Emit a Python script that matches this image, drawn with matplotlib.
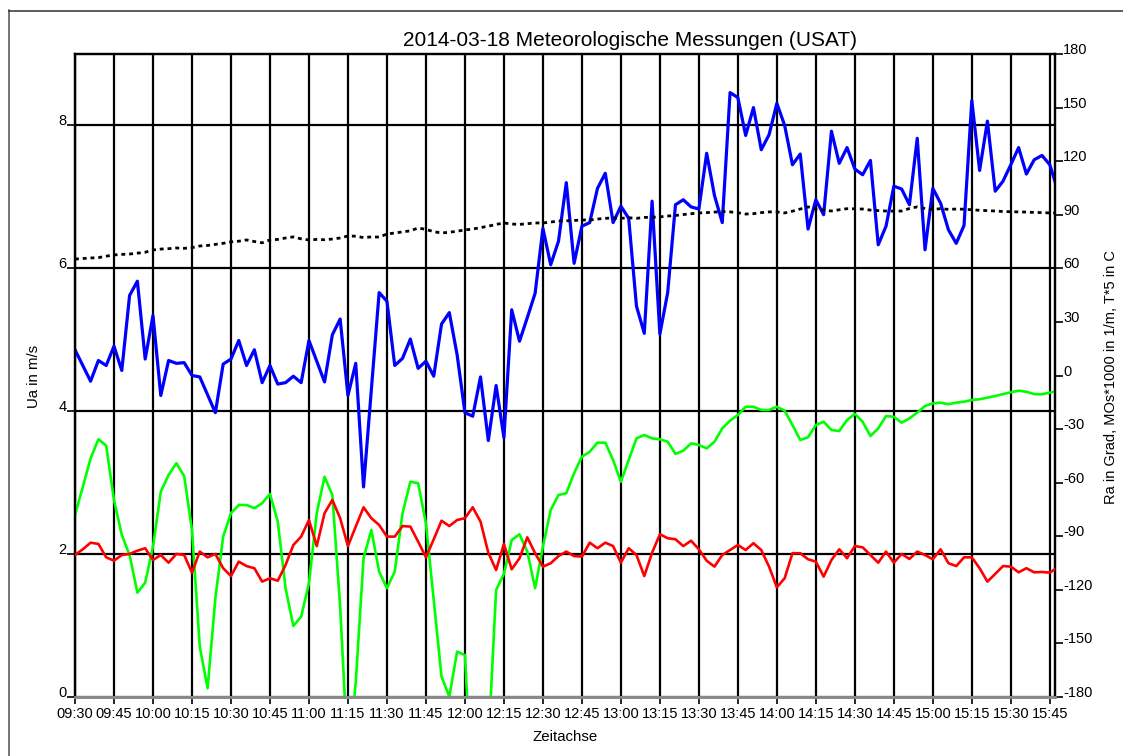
import matplotlib
matplotlib.use("Agg")
import matplotlib.pyplot as plt
import matplotlib.dates as mdates
from matplotlib.lines import Line2D
import pandas as pd

plt.rcParams['font.family'] = ['Liberation Sans', 'DejaVu Sans']

# ---- data ----
start_time = "2014-03-18 09:30"
step = "3min"

ua = [4.86, 4.64, 4.42, 4.71, 4.64, 4.91, 4.57, 5.62, 5.82, 4.73,
      5.34, 4.22, 4.71, 4.67, 4.68, 4.50, 4.48, 4.23, 3.98, 4.66,
      4.73, 4.99, 4.64, 4.86, 4.40, 4.64, 4.38, 4.40, 4.49, 4.40,
      4.99, 4.70, 4.41, 5.07, 5.29, 4.22, 4.67, 2.94, 4.30, 5.66,
      5.54, 4.64, 4.74, 5.01, 4.60, 4.70, 4.49, 5.22, 5.38, 4.79,
      3.98, 3.93, 4.48, 3.59, 4.36, 3.63, 5.42, 4.98, 5.31, 5.65,
      6.56, 6.05, 6.38, 7.20, 6.07, 6.59, 6.64, 7.12, 7.33, 6.64,
      6.87, 6.70, 5.47, 5.09, 6.94, 5.08, 5.66, 6.89, 6.96, 6.86,
      6.83, 7.61, 7.02, 6.64, 8.46, 8.39, 7.86, 8.25, 7.66, 7.87,
      8.31, 8.00, 7.45, 7.60, 6.55, 6.96, 6.75, 7.92, 7.47, 7.69,
      7.39, 7.31, 7.51, 6.33, 6.59, 7.15, 7.11, 6.89, 7.82, 6.26,
      7.12, 6.91, 6.54, 6.35, 6.60, 8.35, 7.37, 8.06, 7.08, 7.22,
      7.45, 7.69, 7.32, 7.52, 7.58, 7.45, 7.10]

temp5 = [65.2, 65.5, 65.8, 66.0, 66.8, 67.5, 67.8, 68.0, 68.5, 69.0,
         70.3, 70.8, 71.0, 71.4, 71.2, 71.6, 72.5, 72.8, 73.4, 74.0,
         74.8, 75.2, 75.9, 75.0, 74.3, 75.9, 76.2, 77.0, 77.6, 76.5,
         75.9, 76.2, 76.0, 76.4, 77.0, 78.1, 78.0, 77.2, 77.6, 77.5,
         79.2, 79.8, 80.4, 81.0, 82.6, 81.8, 80.5, 79.8, 80.2, 80.8,
         81.5, 82.0, 82.8, 83.6, 84.6, 85.4, 84.8, 84.6, 85.0, 85.4,
         85.4, 85.9, 86.5, 86.6, 86.8, 87.1, 87.0, 87.6, 88.0, 88.2,
         88.0, 88.3, 88.0, 88.5, 88.6, 88.8, 89.3, 89.6, 90.1, 90.6,
         91.0, 91.2, 91.5, 91.8, 91.6, 91.1, 90.4, 90.6, 91.2, 91.6,
         91.6, 91.0, 92.0, 93.2, 94.4, 93.2, 92.6, 92.1, 92.8, 93.4,
         93.3, 93.2, 92.6, 92.3, 92.1, 92.0, 92.1, 93.5, 94.4, 93.5,
         93.0, 93.4, 93.0, 93.2, 93.1, 92.8, 92.5, 92.3, 92.1, 91.8,
         91.7, 91.6, 91.5, 91.3, 91.2, 91.0, 91.0]

ra = [-78.1, -62.4, -46.4, -35.7, -39.3, -69.7, -89.3, -100.5, -121.6, -116.0,
      -95.8, -65.0, -55.7, -49.1, -56.3, -86.5, -151.8, -175.1, -124.7, -90.2,
      -77.1, -72.5, -72.5, -74.3, -71.5, -66.3, -81.8, -119.1, -140.2, -135.0,
      -116.3, -77.1, -56.7, -66.9, -129.4, -215.0, -172.0, -102.3, -86.5, -109.8,
      -119.1, -109.8, -77.1, -59.5, -60.3, -82.7, -125.7, -168.6, -179.8, -154.6,
      -156.5, -240.0, -260.0, -207.0, -120.1, -111.1, -92.1, -88.9, -98.6, -119.1,
      -95.8, -75.3, -66.9, -65.9, -54.7, -45.5, -42.7, -37.6, -37.6, -47.3,
      -59.5, -47.3, -35.2, -33.3, -35.2, -35.7, -37.1, -43.9, -42.1, -38.0,
      -38.9, -40.8, -37.1, -29.6, -25.3, -22.1, -17.5, -17.5, -19.3, -19.3,
      -17.5, -19.7, -27.7, -36.1, -34.6, -27.7, -25.9, -30.5, -31.1, -24.9,
      -21.5, -25.9, -33.9, -29.6, -22.7, -23.1, -26.4, -24.0, -20.8, -17.1,
      -15.6, -15.2, -16.1, -15.2, -14.7, -13.7, -13.3, -12.4, -11.5, -10.4,
      -9.4, -8.5, -9.1, -10.4, -10.5, -9.6, -8.7]

mos = [-100.5, -97.3, -93.6, -94.3, -101.8, -103.7, -100.5, -99.9, -98.1, -96.7,
       -103.3, -100.5, -104.8, -99.9, -100.5, -110.4, -98.6, -101.8, -99.9, -107.9,
       -112.3, -104.2, -106.7, -107.9, -115.4, -113.5, -114.9, -106.1, -94.9, -90.2,
       -80.9, -95.5, -77.1, -69.7, -79.9, -95.5, -84.6, -73.8, -79.9, -83.7,
       -90.2, -90.2, -84.3, -84.6, -93.0, -101.8, -91.7, -81.3, -84.3, -80.9,
       -79.9, -73.8, -81.8, -99.2, -108.9, -94.3, -108.5, -102.3, -90.6, -99.5,
       -107.0, -105.1, -101.1, -98.6, -101.1, -101.4, -93.6, -96.7, -93.6, -95.5,
       -104.8, -96.7, -100.5, -112.3, -99.2, -88.9, -91.1, -91.7, -95.5, -92.5,
       -97.3, -103.7, -107.0, -100.5, -97.7, -94.9, -97.7, -93.9, -97.7, -107.0,
       -118.6, -113.5, -99.5, -99.5, -102.9, -104.2, -112.6, -103.3, -97.3, -102.3,
       -95.5, -96.2, -100.5, -104.8, -98.6, -104.8, -99.9, -102.7, -98.6, -100.5,
       -102.9, -97.3, -105.1, -106.7, -101.8, -101.8, -107.9, -115.4, -111.1, -106.7,
       -107.0, -110.2, -107.9, -110.2, -110.0, -110.4, -107.4]

left_ticks = [0, 2, 4, 6, 8]
right_ticks = list(range(-180, 181, 30))

times = pd.date_range(start_time, periods=len(ua), freq=step)

# ---- figure ----
W, H = 1123, 756
fig = plt.figure(figsize=(W / 100, H / 100), dpi=100)
L, R, T, B = 75, 1055, 54, 697
ax = fig.add_axes([L / W, 1 - B / H, (R - L) / W, (B - T) / H])
ax2 = ax.twinx()

ax.set_ylim(0, 9)
ax2.set_ylim(-180, 180)
xmin = pd.Timestamp(start_time)
xmax = xmin + pd.Timedelta(minutes=377)
ax.set_xlim(xmin, xmax)

ax.xaxis.set_major_locator(mdates.MinuteLocator(byminute=[0, 15, 30, 45]))
ax.xaxis.set_major_formatter(mdates.DateFormatter('%H:%M'))

ax.set_yticks(left_ticks)
ax2.set_yticks(right_ticks)
ax2.set_yticklabels([str(v) for v in right_ticks])
ax.set_yticklabels([str(v) for v in left_ticks])

ax.grid(True, axis='both', color='black', linewidth=1.6)
ax.set_axisbelow(True)

ax.tick_params(axis='x', length=5, width=1.2, pad=2, labelsize=10.5, color='black')
ax.tick_params(axis='y', length=5.5, width=1.2, pad=0.5, labelsize=10.5)
ax2.tick_params(axis='y', length=5.5, width=1.2, pad=0.5, labelsize=10.5)
for lbl in ax.get_yticklabels():
    lbl.set_verticalalignment('baseline')
for lbl in ax2.get_yticklabels():
    lbl.set_verticalalignment('baseline')

for a in (ax, ax2):
    for s in ('left', 'right', 'top'):
        a.spines[s].set_color('black')
        a.spines[s].set_linewidth(1.6)
    a.spines['bottom'].set_color('#8a8a8a')
    a.spines['bottom'].set_linewidth(2.0)

# ---- data lines ----
ax.plot(times, ua, color='#0000ff', linewidth=2.3, zorder=3)
ax2.plot(times, ra, color='#00ff00', linewidth=1.9, zorder=2)
ax2.plot(times, mos, color='#ff0000', linewidth=1.9, zorder=3)
ax2.plot(times, temp5, color='black', linewidth=2.0, linestyle=(0, (1.4, 1.4)), zorder=4)

# ---- texts ----
fig.text(630 / W, 1 - 46 / H, '2014-03-18 Meteorologische Messungen (USAT)',
         ha='center', va='baseline', fontsize=15)
fig.text(565 / W, 1 - 741 / H, 'Zeitachse', ha='center', va='baseline', fontsize=10.8)
fig.text(34 / W, 1 - 376 / H, 'Ua in m/s', ha='center', va='center',
         rotation=90, fontsize=10.8)
fig.text(1111 / W, 1 - 377 / H, 'Ra in Grad, MOs*1000 in 1/m, T*5 in C',
         ha='center', va='center', rotation=90, fontsize=10.5)

# outer frame
fig.add_artist(Line2D([8.5 / W, 8.5 / W], [0, 1 - 10 / H], transform=fig.transFigure,
                      color='#505050', linewidth=1.1))
fig.add_artist(Line2D([8.5 / W, 1], [1 - 10.5 / H, 1 - 10.5 / H], transform=fig.transFigure,
                      color='#303030', linewidth=1.1))

fig.savefig('out.png', dpi=100)
